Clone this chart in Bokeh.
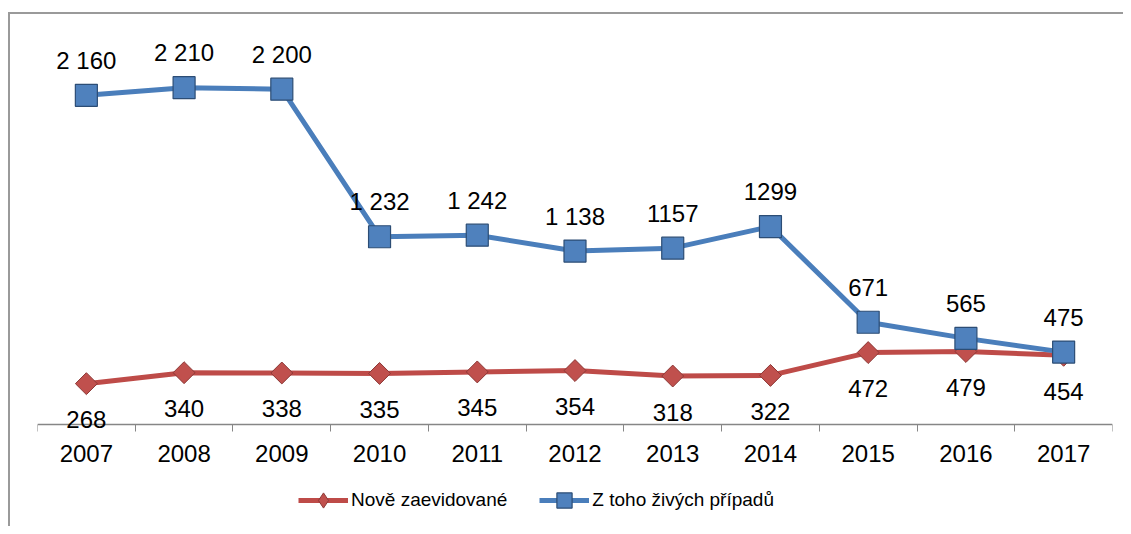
import numpy as np
from bokeh.plotting import figure
from bokeh.models import ColumnDataSource, FixedTicker, Range1d, Legend, LegendItem, LabelSet
from bokeh.core.properties import value
from bokeh.embed import file_html
from bokeh.resources import INLINE

years = ["2007", "2008", "2009", "2010", "2011", "2012", "2013", "2014", "2015", "2016", "2017"]
nove = [268, 340, 338, 335, 345, 354, 318, 322, 472, 479, 454]
nove_labels = ["268", "340", "338", "335", "345", "354", "318", "322", "472", "479", "454"]
zive = [2160, 2210, 2200, 1232, 1242, 1138, 1157, 1299, 671, 565, 475]
zive_labels = ["2 160", "2 210", "2 200", "1 232", "1 242", "1 138", "1157", "1299", "671", "565", "475"]

xs = list(range(len(years)))
FONT = "Liberation Sans"

Y_TOP = 2500
Y_BOTTOM = -Y_TOP * 102 / 381  # frame extends below the axis to hold labels and legend

p = figure(frame_width=1075, frame_height=483, output_backend="svg", toolbar_location=None,
           x_range=Range1d(-0.5, len(years) - 0.5), y_range=Range1d(Y_BOTTOM, Y_TOP),
           min_border_left=27, min_border_right=11, min_border_top=29, min_border_bottom=0)
p.styles = {"border-left": "2px solid #9a9a9a", "border-top": "2px solid #9a9a9a",
            "margin-top": "12px", "margin-left": "8px"}
p.outline_line_color = None
p.grid.visible = False
p.yaxis.visible = False

ax = p.xaxis[0]
ax.fixed_location = 0
ax.ticker = FixedTicker(ticks=xs, minor_ticks=[i - 0.5 for i in range(len(years) + 1)])
ax.major_label_overrides = {i: y for i, y in enumerate(years)}
ax.major_tick_out = 0
ax.major_tick_in = 0
ax.minor_tick_out = 7
ax.minor_tick_in = 0
ax.minor_tick_line_color = "#868686"
ax.axis_line_color = "#868686"
ax.axis_line_width = 1.5
ax.major_label_text_font = FONT
ax.major_label_text_font_size = "24px"
ax.major_label_text_color = "black"
ax.major_label_standoff = 13

src_r = ColumnDataSource(dict(x=xs, y=nove, t=nove_labels))
src_b = ColumnDataSource(dict(x=xs, y=zive, t=zive_labels))

lr = p.line("x", "y", source=src_r, line_color="#BE4B48", line_width=5)
# legend proxy: a plain diamond, hidden underneath the larger rotated-square markers
sr_leg = p.scatter("x", "y", source=src_r, marker="diamond", size=15,
                   fill_color="#C0504D", line_color="#8C3836", line_width=1)
sr = p.scatter("x", "y", source=src_r, marker="square", angle=np.pi / 4, size=15.5,
               fill_color="#C0504D", line_color="#8C3836", line_width=1)
lb = p.line("x", "y", source=src_b, line_color="#4A7EBB", line_width=5)
sb = p.scatter("x", "y", source=src_b, marker="square", size=22,
               fill_color="#4F81BD", line_color="#2C4D75", line_width=1.2)

p.add_layout(LabelSet(x="x", y="y", text="t", source=src_b, text_font=value(FONT),
                      text_font_size=value("24px"), text_align="center", text_baseline="middle",
                      y_offset=35, text_color="black"))
p.add_layout(LabelSet(x="x", y="y", text="t", source=src_r, text_font=value(FONT),
                      text_font_size=value("24px"), text_align="center", text_baseline="middle",
                      y_offset=-36, text_color="black"))

legend = Legend(items=[LegendItem(label="Nově zaevidované", renderers=[lr, sr_leg]),
                       LegendItem(label="Z toho živých případů", renderers=[lb, sb])],
                location=(261, 7), orientation="horizontal",
                glyph_width=50, glyph_height=38, label_standoff=3, spacing=32,
                label_text_font=FONT, label_text_font_size="19px", label_text_color="black",
                border_line_color=None, background_fill_alpha=0, padding=0, margin=0)
p.add_layout(legend, "center")

open("out.html", "w").write(file_html(p, INLINE))
